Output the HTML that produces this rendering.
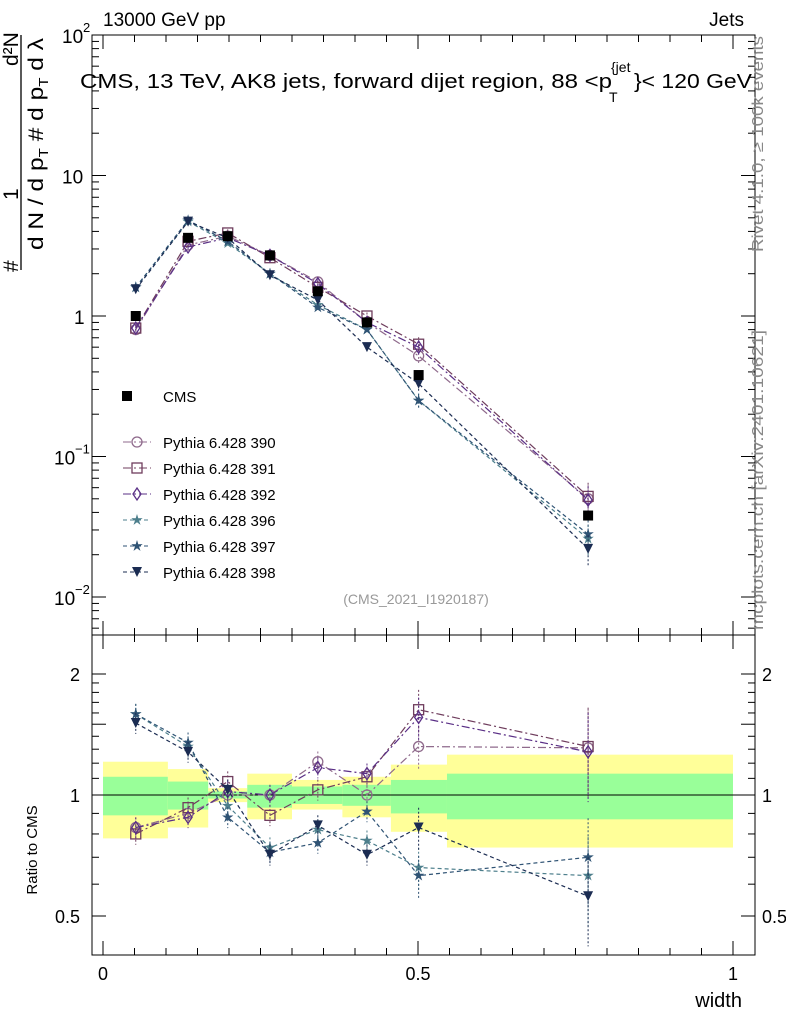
<!DOCTYPE html>
<html><head><meta charset="utf-8"><style>
body{margin:0;background:#fff;font-family:"Liberation Sans",sans-serif}
svg text{font-family:"Liberation Sans",sans-serif}
</style></head><body>
<svg id="c" width="786" height="1024" xmlns="http://www.w3.org/2000/svg"></svg>
<script>
const xs=[0.052,0.135,0.198,0.265,0.341,0.419,0.501,0.770];
const binEdges=[0,0.103,0.167,0.229,0.3,0.38,0.457,0.546,1.0];
const cmsVals=[1.0,3.6,3.7,2.7,1.5,0.9,0.38,0.038];
const names=["Pythia 6.428 390","Pythia 6.428 391","Pythia 6.428 392","Pythia 6.428 396","Pythia 6.428 397","Pythia 6.428 398"];
const s390=[0.8,3.2,3.7,2.7,1.75,0.9,0.52,0.05];
const s391=[0.82,3.4,3.9,2.6,1.6,1.0,0.63,0.052];
const s392=[0.82,3.1,3.6,2.7,1.7,0.9,0.6,0.049];
const s396=[1.6,4.7,3.3,2.0,1.2,0.8,0.25,0.026];
const s397=[1.6,4.8,3.4,2.0,1.15,0.8,0.25,0.028];
const s398=[1.55,4.7,3.6,1.95,1.3,0.6,0.33,0.022];
const r390=[0.83,0.9,1.0,1.0,1.21,1.0,1.32,1.31];
const r391=[0.80,0.93,1.08,0.89,1.03,1.11,1.63,1.32];
const r392=[0.83,0.88,1.02,1.0,1.17,1.13,1.56,1.28];
const r396=[1.59,1.32,0.94,0.74,0.82,0.77,0.66,0.63];
const r397=[1.59,1.35,0.88,0.72,0.76,0.91,0.63,0.70];
const r398=[1.51,1.28,1.03,0.71,0.84,0.71,0.83,0.56];
const greenHi=[1.11,1.08,1.02,1.06,1.05,1.06,1.09,1.13];
const greenLo=[0.89,0.92,0.98,0.93,0.95,0.94,0.90,0.87];
const yellowHi=[1.21,1.16,1.04,1.13,1.09,1.11,1.19,1.26];
const yellowLo=[0.78,0.83,0.96,0.87,0.92,0.88,0.81,0.74];

const svg=document.getElementById('c');
const NS="http://www.w3.org/2000/svg";
function el(t,a,p){const e=document.createElementNS(NS,t);for(const k in a)e.setAttribute(k,a[k]);(p||svg).appendChild(e);return e;}
const X=v=>103+630*v;
const Y=v=>316-140.5*Math.log10(v);
const R=v=>795-121*Math.log2(v);
const L=92,Rt=755;
for(let i=0;i<xs.length;i++){
  const y=el('rect',{x:X(binEdges[i]),y:R(yellowHi[i]),width:X(binEdges[i+1])-X(binEdges[i]),height:R(yellowLo[i])-R(yellowHi[i]),fill:'#ffff99'});
  
  const g=el('rect',{x:X(binEdges[i]),y:R(greenHi[i]),width:X(binEdges[i+1])-X(binEdges[i]),height:R(greenLo[i])-R(greenHi[i]),fill:'#99ff99'});
  
}
el('line',{x1:L,x2:Rt,y1:R(1),y2:R(1),stroke:'#000'});
el('rect',{x:L,y:35,width:Rt-L,height:600,fill:'none',stroke:'#000'});
el('rect',{x:L,y:635,width:Rt-L,height:320,fill:'none',stroke:'#000'});
function txt(x,y,s,a,sz,anchor,fill){const t=el('text',Object.assign({x:x,y:y,'font-size':sz||18,'text-anchor':anchor||'start',fill:fill||'#000'},a||{}));t.textContent=s;return t;}
for(let d=-3;d<=2;d++){for(let m=1;m<10;m++){const v=m*Math.pow(10,d);const y=Y(v);if(y<35||y>635)continue;const len=m==1?14:7;
el('line',{x1:L,x2:L+len,y1:y,y2:y,stroke:'#000'});el('line',{x1:Rt,x2:Rt-len,y1:y,y2:y,stroke:'#000'});}}
const ml=[[2,"10",'2'],[1,"10",''],[0,"1",''],[-1,"10",'−1'],[-2,"10",'−2']];
ml.forEach(([d,b,e])=>{const y=Y(Math.pow(10,d));const bx=b=="1"?74:(d==1?62:(d==2?62:54));const t=txt(bx,y+8,b,{},19);
 if(e){txt(bx+21,y-3,e,{},13);}});
[0.5,0.6,0.7,0.8,0.9,1,1.1,1.2,1.3,1.4,1.5,1.6,1.7,1.8,1.9,2].forEach(v=>{const y=R(v);const len=(v==0.5||v==1||v==1.5||v==2)?14:7;el('line',{x1:L,x2:L+len,y1:y,y2:y,stroke:'#000'});el('line',{x1:Rt,x2:Rt-len,y1:y,y2:y,stroke:'#000'});});
[[2,"2"],[1,"1"],[0.5,"0.5"]].forEach(([v,s])=>{txt(80,R(v)+7,s,{},18,'end');txt(762,R(v)+7,s,{},18,'start');});
for(let i=0;i<=20;i++){const v=i*0.05;const x=X(v);const len=i%10==0?14:7;
[[35,1],[635,1],[955,-1],[635,-1]].forEach(([y0,s])=>el('line',{x1:x,x2:x,y1:y0,y2:y0+s*len,stroke:'#000'}));}
[[0,"0"],[0.5,"0.5"],[1,"1"]].forEach(([v,s])=>{const t=txt(X(v),980,s,{},18,'middle');});
txt(742,1007,"width",{},20,'end');
txt(103,26,"13000 GeV pp",{},19);
txt(744,26,"Jets",{},19,'end');
txt(80,88,"CMS, 13 TeV, AK8 jets, forward dijet region, 88 <p",{textLength:532,lengthAdjust:'spacingAndGlyphs'},20);
txt(611,72,"{jet",{},14);txt(609,102,"T",{},14);
txt(634,88,"}< 120 GeV",{textLength:118,lengthAdjust:'spacingAndGlyphs'},20);
txt(416,604,"(CMS_2021_I1920187)",{},14,'middle','#999');
txt(0,0,"Rivet 4.1.0, ≥ 100k events",{transform:'translate(763,252) rotate(-90)',textLength:216,lengthAdjust:'spacingAndGlyphs'},16,'start','#888');
txt(0,0,"mcplots.cern.ch [arXiv:2401.10621]",{transform:'translate(763,630) rotate(-90)',textLength:300,lengthAdjust:'spacingAndGlyphs'},16,'start','#888');
txt(0,0,"Ratio to CMS",{transform:'translate(37,850) rotate(-90)',},15,'middle');
// y axis title as fraction
const yt=el('g',{transform:'rotate(-90)'});
el('line',{x1:-270,x2:-35,y1:21,y2:21,stroke:'#000','stroke-width':1.3},yt);
txt(-270,17,"#",{},21,'start','#000').remove();
const n1=el('text',{x:-272,y:18,'font-size':21},yt);n1.textContent="#";
const n2=el('text',{x:-200,y:18,'font-size':21},yt);n2.textContent="1";
const n3=el('text',{x:-66,y:18,'font-size':21},yt);n3.textContent="d²N";
const dn=el('text',{x:-250,y:43,'font-size':21},yt);
dn.innerHTML='d N / d p<tspan font-size="13" dy="5">T</tspan><tspan dy="-5"> # d p</tspan><tspan font-size="13" dy="5">T</tspan><tspan dy="-5"> d λ</tspan>';
dn.setAttribute('textLength','212');dn.setAttribute('lengthAdjust','spacingAndGlyphs');
const series=[[s390,r390,'#8f6a8c','circle','8 3 2 3'],[s391,r391,'#6f3d5d','square','8 3 2 3'],[s392,r392,'#5a2f86','diamond','8 3 2 3'],[s396,r396,'#4d7f8c','star','4 3'],[s397,r397,'#2f5374','star','4 3'],[s398,r398,'#1b2c52','tri','4 3']];
function marker(g,type,x,y,c,sz){sz=sz||5;
 if(type=='circle')el('circle',{cx:x,cy:y,r:sz,fill:'none',stroke:c,'stroke-width':1.3},g);
 else if(type=='square')el('rect',{x:x-sz,y:y-sz,width:2*sz,height:2*sz,fill:'none',stroke:c,'stroke-width':1.3},g);
 else if(type=='diamond')el('polygon',{points:`${x},${y-sz-1} ${x+sz-1},${y} ${x},${y+sz+1} ${x-sz+1},${y}`,fill:'none',stroke:c,'stroke-width':1.3},g);
 else if(type=='star'){let p=[];for(let k=0;k<10;k++){const r=k%2?sz*0.45:sz+1;const a=-Math.PI/2+k*Math.PI/5;p.push((x+r*Math.cos(a)).toFixed(1)+','+(y+r*Math.sin(a)).toFixed(1));}el('polygon',{points:p.join(' '),fill:c},g);}
 else if(type=='tri')el('polygon',{points:`${x-sz},${y-sz} ${x+sz},${y-sz} ${x},${y+sz}`,fill:c},g);
 else if(type=='fsq')el('rect',{x:x-sz,y:y-sz,width:2*sz,height:2*sz,fill:c},g);}
series.forEach(([v,r,c,m,d],i)=>{
 const g=el('g',{});
 el('polyline',{points:xs.map((x,j)=>X(x)+','+Y(v[j])).join(' '),fill:'none',stroke:c,'stroke-dasharray':d,'stroke-width':1.2},g);
 el('polyline',{points:xs.map((x,j)=>X(x)+','+R(r[j])).join(' '),fill:'none',stroke:c,'stroke-dasharray':d,'stroke-width':1.2},g);
 xs.forEach((x,j)=>{const e=j==7?0.25:(j==6?0.12:0.06);
  el('line',{x1:X(x),x2:X(x),y1:Y(v[j]*(1+e)),y2:Y(v[j]*(1-e)),stroke:c,'stroke-dasharray':'2 2'},g);
  el('line',{x1:X(x),x2:X(x),y1:R(r[j]*(1+e)),y2:R(r[j]*(1-e)),stroke:c,'stroke-dasharray':'2 2'},g);
  marker(g,m,X(x),Y(v[j]),c);marker(g,m,X(x),R(r[j]),c);});
 const ly=448+i*26;el('line',{x1:123,x2:151,y1:ly-6,y2:ly-6,stroke:c,'stroke-dasharray':d},g);marker(g,m,137,ly-6,c);
 const t=txt(163,ly,names[i],{},15);
});
const gc=el('g',{});
xs.forEach((x,j)=>marker(gc,'fsq',X(x),Y(cmsVals[j]),'#000'));
marker(gc,'fsq',127,396,'#000');
const tc=txt(163,402,"CMS",{},15);
</script>
</body></html>
